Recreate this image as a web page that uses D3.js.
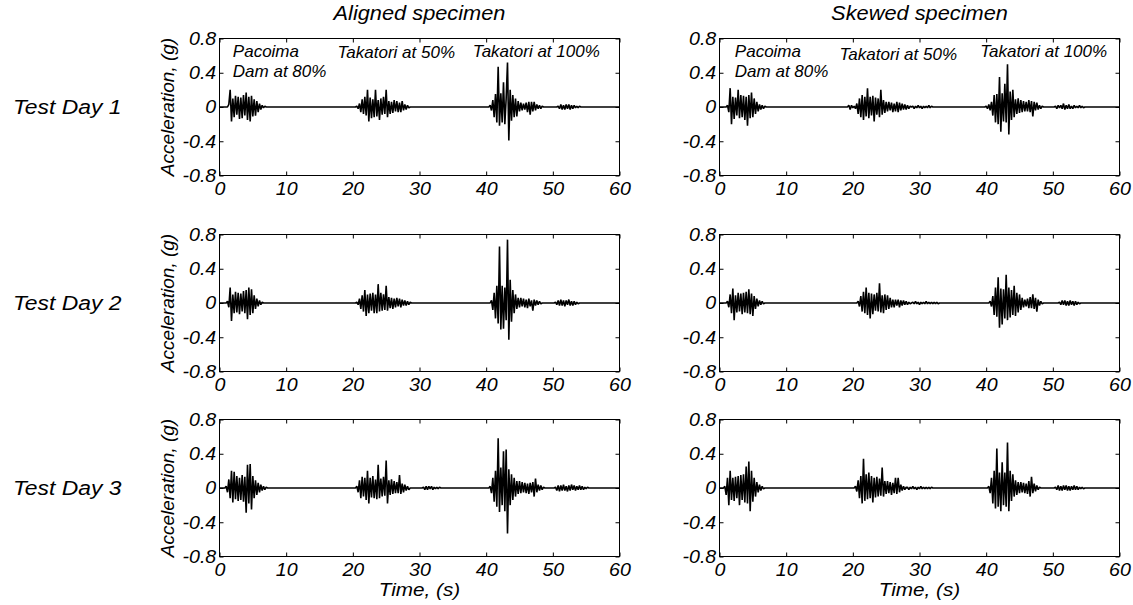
<!DOCTYPE html>
<html>
<head>
<meta charset="utf-8">
<script src="https://cdn.jsdelivr.net/npm/d3@7"></script>
<style>
  body { margin: 0; background: #fff; }
  text { font-family: "Liberation Sans", Arial, Helvetica, sans-serif; font-style: italic; fill: #000; }
</style>
</head>
<body>
<div id="chart"></div>
<script>
// Recorded table accelerations, in hundredths of g.
// Each record lists bursts: start time t0 (s), then one sample every SAMPLE_DT s.
// Between bursts the record sits at zero.
const SAMPLE_DT = 0.2;

const day1Aligned = [
    {t0: 1.4, a: [3,20,-17,10,-12,13,-9,12,-14,11,-13,14,-10,17,-15,12,-17,13,-11,9,-10,7,-6,4,-3,2,-1,1]},
    {t0: 20.6, a: [1,-2,4,-6,9,-8,12,-10,20,-17,11,-13,9,-12,20,-11,8,-15,10,-9,12,-8,20,-12,7,-8,6,-7,8,-5,7,-6,5,-6,7,-4,3,-3,2,-1]},
    {t0: 40.6, a: [2,-4,8,-12,15,-18,47,-22,16,-18,29,-20,10,52,-39,20,-16,14,-12,10,-11,7,-5,5,-4,4,-3,5,-6,6,-9,6,-5,6,-4,3,-2,2,-2,1]},
    {t0: 50.8, a: [1,-2,3,-3,2,-3,3,-2,3,-3,2,-2,2,-1,1,-1,1]}
];
const day1Skewed = [
    {t0: 1.2, a: [2,-6,22,-20,12,-14,11,-10,20,-13,14,-12,13,-15,12,-22,14,-13,17,-12,10,-8,6,-5,3,-3,2,-2,1]},
    {t0: 19.4, a: [2,-3,2,-1,1,-2,4,-8,10,-12,14,-15,12,-11,22,-13,12,-10,13,-17,11,-9,10,-12,20,-9,8,-7,6,-5,6,-4,5,-6,4,-5,6,-6,5,-4,4,-3,3,-3,2,-2,1]},
    {t0: 29.0, a: [1,-2,1,-1,2,-1,1,-2,1,-1,1,-1,2,-1,1]},
    {t0: 40.0, a: [1,-2,3,-4,6,-10,14,-18,15,-20,35,-29,16,-17,27,-18,50,-32,18,-15,20,-12,9,-8,10,-7,8,-6,7,-5,6,-5,8,-6,7,-11,6,-4,5,-3,2,-2,1]},
    {t0: 50.4, a: [1,-2,2,-1,2,-2,4,-3,2,-2,3,-2,1,-2,2,-1,1,-1,2,-1,1,-1]}
];
const day2Aligned = [
    {t0: 1.2, a: [2,-5,18,-21,10,-12,13,-11,12,-13,11,-10,14,-12,15,-19,18,-14,16,-12,9,-7,5,-4,3,-2,1]},
    {t0: 20.6, a: [1,-2,5,-7,9,-10,15,-15,10,-12,11,-9,12,-12,10,-12,22,-10,12,-9,10,-8,20,-9,7,-6,6,-7,5,-5,6,-4,5,-5,4,-3,3,-3,2,-2,1]},
    {t0: 40.8, a: [3,-8,12,-18,20,-24,66,-31,20,-30,18,-20,74,-43,27,-22,15,-12,10,-7,6,-5,6,-4,5,-5,4,-6,5,-4,3,-9,4,-3,3,-2,2,-1]},
    {t0: 50.4, a: [1,-2,3,-3,4,-3,3,-4,3,-2,4,-3,2,-3,2,-2,1,-1]}
];
const day2Skewed = [
    {t0: 1.2, a: [2,-5,10,-12,17,-20,9,-11,12,-10,11,-13,12,-11,13,-12,16,-13,11,-15,8,-7,5,-4,3,-2,2,-1]},
    {t0: 20.8, a: [2,-4,8,-10,13,-12,18,-14,12,-18,11,-13,10,-9,12,-10,23,-11,9,-12,10,-8,9,-7,6,-5,4,-5,4,-3,4,-5,3,-3,3,-2,2,-2,1,-1]},
    {t0: 29.0, a: [1,-1,2,-1,1,-2,1,-1,1,-1,2,-1,1,-1,1,-1,1,-1,1,-1]},
    {t0: 40.6, a: [2,-4,8,-14,18,-16,30,-29,17,-25,16,-18,33,-20,18,-17,15,-14,20,-15,12,-11,10,-8,6,-5,4,-4,5,-6,7,-6,10,-7,6,-10,4,-3,2,-1]},
    {t0: 51.0, a: [1,-2,3,-2,3,-3,2,-3,3,-2,2,-3,2,-2,1,-1]}
];
const day3Aligned = [
    {t0: 1.0, a: [2,-5,10,-12,20,-17,19,-13,14,-15,12,-14,15,-16,13,-29,27,-18,28,-25,14,-12,9,-8,6,-5,4,-3,2,-2,1]},
    {t0: 20.6, a: [2,-5,9,-12,13,-10,12,-14,20,-18,12,-11,14,-12,10,-13,27,-12,11,-10,13,-9,32,-18,9,-8,10,-7,8,-6,7,-6,15,-7,5,-5,4,-3,2,-2]},
    {t0: 30.6, a: [1,-2,2,-2,2,-1,2,-2,1,-1,1,-1,1]},
    {t0: 40.6, a: [2,-6,12,-16,20,-22,58,-28,24,-20,43,-27,45,-53,22,-20,16,-14,12,-10,8,-7,8,-6,7,-5,6,-6,5,-7,6,-5,7,-10,11,-5,4,-3,3,-2,1]},
    {t0: 50.4, a: [1,-3,3,-4,3,-3,4,-3,2,-4,3,-3,4,-2,3,-3,2,-2,3,-2,2,-2,1,-1,1]}
];
const day3Skewed = [
    {t0: 0.8, a: [2,-8,12,-20,20,-14,12,-15,13,-12,14,-20,15,-14,16,-17,25,-18,31,-27,20,-16,12,-10,7,-5,4,-3,2,-1]},
    {t0: 20.4, a: [2,-4,9,-12,14,-18,34,-15,16,-13,18,-12,14,-17,12,-11,13,-10,11,-9,24,-10,8,-7,8,-6,7,-8,6,-6,12,-7,12,-5,4,-3,2,-2,1]},
    {t0: 28.2, a: [1,-2,1,-1,2,-1,1,-2,1,-1,2,-1,1,-1,1,-1,1,-1,1]},
    {t0: 40.4, a: [2,-6,12,-18,20,-24,46,-22,18,-27,30,-20,18,-22,53,-27,20,-15,16,-10,9,-8,7,-6,7,-5,6,-6,5,-7,8,-10,13,-6,5,-4,3,-2,1]},
    {t0: 50.4, a: [1,-2,3,-3,2,-3,3,-2,3,-3,2,-3,2,-2,3,-2,2,-2,1,-1,1,-1]}
];

const columnTitles = ["Aligned specimen", "Skewed specimen"];
const rowTitles = ["Test Day 1", "Test Day 2", "Test Day 3"];
const timeTicks = [0, 10, 20, 30, 40, 50, 60];
const accTicks = [-0.8, -0.4, 0, 0.4, 0.8];
const motionLabels = [["Pacoima", "Dam at 80%"], ["Takatori at 50%"], ["Takatori at 100%"]];
const motionLabelTimes = [[2.0, 17.7, 38.0], [2.3, 18.0, 39.1]];
const motionLabelAcc = [[0.58, 0.57, 0.58], [0.58, 0.55, 0.58]];

const records = [
    [day1Aligned, day1Skewed],
    [day2Aligned, day2Skewed],
    [day3Aligned, day3Skewed]
];

const width = 1133,
    height = 605;
const colLeft = [219.5, 719.5],
    colWidth = 400;
const rowTop = [38.5, 234.5, 419.5],
    rowHeight = 137;
const fontFamily = '"Liberation Sans", Arial, Helvetica, sans-serif';
const stretch = 1.09; // the lettering is a little wider than Liberation Sans

const svg = d3.select("#chart")
    .append("svg")
    .attr("width", width)
    .attr("height", height);

function label(parent, x, y, size, txt, anchor, sx) {
    return parent.append("text")
        .attr("transform", "translate(" + x + "," + y + ") scale(" + (sx || stretch) + ",1)")
        .attr("text-anchor", anchor || "start")
        .attr("font-size", size)
        .text(txt);
}

function tracePoints(bursts) {
    const pts = [[0, 0]];
    bursts.forEach(function(b) {
        pts.push([b.t0 - SAMPLE_DT, 0]);
        b.a.forEach(function(v, i) {
            pts.push([b.t0 + i * SAMPLE_DT, v / 100]);
        });
        pts.push([b.t0 + b.a.length * SAMPLE_DT, 0]);
    });
    pts.push([60, 0]);
    return pts;
}

records.forEach(function(row, r) {
    row.forEach(function(bursts, c) {
        const g = svg.append("g")
            .attr("transform", "translate(" + colLeft[c] + "," + rowTop[r] + ")");

        const x = d3.scaleLinear().domain([0, 60]).range([0, colWidth]);
        const y = d3.scaleLinear().domain([-0.8, 0.8]).range([rowHeight, 0]);

        // trace
        const line = d3.line()
            .x(function(d) { return x(d[0]); })
            .y(function(d) { return y(d[1]); });
        g.append("path")
            .datum(tracePoints(bursts))
            .attr("fill", "none")
            .attr("stroke", "#000")
            .attr("stroke-width", 1.6)
            .attr("stroke-linejoin", "bevel")
            .attr("d", line);

        // axes, ticks pointing inward
        const bottom = g.append("g")
            .attr("transform", "translate(0," + rowHeight + ")")
            .call(d3.axisBottom(x).tickValues(timeTicks).tickSizeInner(-4).tickSizeOuter(0)
                .tickPadding(7).tickFormat(function(d) { return String(d); }));
        const left = g.append("g")
            .call(d3.axisLeft(y).tickValues(accTicks).tickSizeInner(-4).tickSizeOuter(0)
                .tickPadding(3).tickFormat(function(d) { return String(d); }));
        g.append("g")
            .call(d3.axisTop(x).tickValues(timeTicks).tickSizeInner(-4).tickSizeOuter(0).tickFormat(""));
        g.append("g")
            .attr("transform", "translate(" + colWidth + ",0)")
            .call(d3.axisRight(y).tickValues(accTicks).tickSizeInner(-4).tickSizeOuter(0).tickFormat(""));

        g.selectAll(".domain").remove();
        g.selectAll(".tick line").attr("stroke", "#000");
        [bottom, left].forEach(function(a) {
            a.attr("font-size", 18).attr("font-family", fontFamily);
            a.selectAll("text").attr("transform", "scale(" + stretch + ",1)");
        });

        // box
        g.append("rect")
            .attr("width", colWidth)
            .attr("height", rowHeight)
            .attr("fill", "none")
            .attr("stroke", "#000")
            .attr("stroke-width", 1);

        // y axis title on the left column only
        if (c === 0) {
            g.append("text")
                .attr("transform", "translate(-46," + (rowHeight / 2) + ") rotate(-90)")
                .attr("text-anchor", "middle")
                .attr("font-size", 19)
                .text("Acceleration, (g)");
        }

        // x axis title under the bottom row
        if (r === records.length - 1) {
            label(g, colWidth / 2, rowHeight + 39, 19, "Time, (s)", "middle");
        }

        // ground motion names on the first row
        if (r === 0) {
            motionLabels.forEach(function(lines, k) {
                lines.forEach(function(txt, j) {
                    label(g, x(motionLabelTimes[c][k]), y(motionLabelAcc[c][k]) + j * 20, 17, txt, "start", 1);
                });
            });
            label(svg, colLeft[c] + colWidth / 2, 20, 20, columnTitles[c], "middle");
        }

        if (c === 0) {
            label(svg, 13, rowTop[r] + y(0) + 7, 21, rowTitles[r]);
        }
    });
});
</script>
</body>
</html>
